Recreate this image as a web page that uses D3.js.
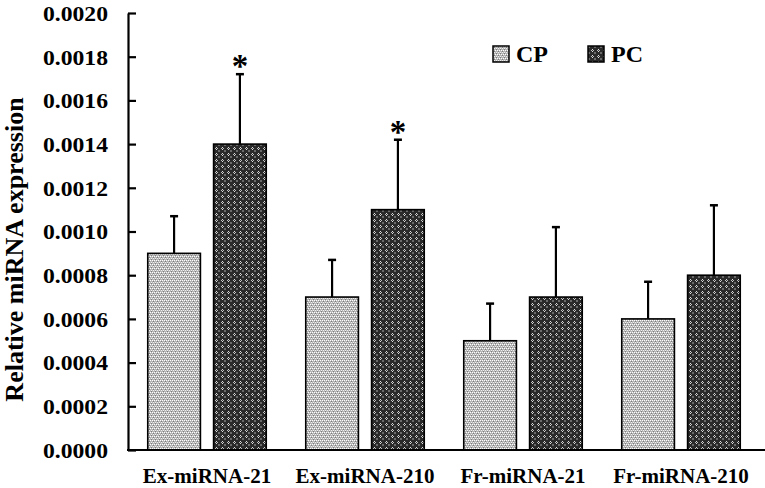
<!DOCTYPE html>
<html>
<head>
<meta charset="utf-8">
<script src="https://cdn.jsdelivr.net/npm/d3@7"></script>
<style>
	body { margin: 0; background: #fff; }
	svg { display: block; }
	text { font-family: "Liberation Serif", "Times New Roman", serif; font-weight: bold; fill: #000; }
</style>
</head>
<body>
<svg id="chart" width="765" height="488"></svg>
<script>
const categories = ["Ex-miRNA-21", "Ex-miRNA-210", "Fr-miRNA-21", "Fr-miRNA-210"];
const seriesNames = ["CP", "PC"];

// mean values and top of the error bar (mean + sd)
const cpValues = [0.0009, 0.0007, 0.0005, 0.0006];
const cpErrTop = [0.00107, 0.00087, 0.00067, 0.00077];
const pcValues = [0.0014, 0.0011, 0.0007, 0.0008];
const pcErrTop = [0.00172, 0.00142, 0.00102, 0.00112];
const pcStar = [true, true, false, false];

const yTicks = [0, 0.0002, 0.0004, 0.0006, 0.0008, 0.0010, 0.0012, 0.0014, 0.0016, 0.0018, 0.0020];

const LEFT = 128;
const RIGHT = 760;
const TOP = 13;
const BOTTOM = 450;

const svg = d3.select("#chart");

// fill patterns for the two series
const defs = svg.append("defs");

let cpPat = defs.append("pattern")
	.attr("id", "pat-cp")
	.attr("patternUnits", "userSpaceOnUse")
	.attr("width", 4).attr("height", 4);
cpPat.append("rect").attr("width", 4).attr("height", 4).attr("fill", "#b4b4b4");
[[0, 0, "#ffffff"], [2, 0, "#ffffff"], [1, 2, "#f0f0f0"], [3, 2, "#f0f0f0"],
 [1, 1, "#7c7c7c"], [3, 3, "#7c7c7c"]].forEach(p => {
	cpPat.append("rect").attr("x", p[0]).attr("y", p[1]).attr("width", 1).attr("height", 1)
		.attr("fill", p[2]).attr("shape-rendering", "crispEdges");
});

let pcPat = defs.append("pattern")
	.attr("id", "pat-pc")
	.attr("patternUnits", "userSpaceOnUse")
	.attr("width", 6).attr("height", 6);
pcPat.append("rect").attr("width", 6).attr("height", 6).attr("fill", "#2a2a2a");
[[0, 0, "#6a6a6a"], [1, 0, "#6a6a6a"], [0, 1, "#6a6a6a"], [1, 1, "#6a6a6a"],
 [4, 3, "#e0e0e0"], [3, 4, "#bdbdbd"], [5, 4, "#bdbdbd"], [4, 5, "#e0e0e0"]].forEach(p => {
	pcPat.append("rect").attr("x", p[0]).attr("y", p[1]).attr("width", 1).attr("height", 1)
		.attr("fill", p[2]).attr("shape-rendering", "crispEdges");
});

const fills = { CP: "url(#pat-cp)", PC: "url(#pat-pc)" };

const x0 = d3.scaleBand().domain(categories).range([LEFT, RIGHT]);
const x1 = d3.scaleBand().domain(seriesNames).range([0, x0.bandwidth()])
	.paddingInner(0.2).paddingOuter(0.3);
const y = d3.scaleLinear().domain([0, 0.002]).range([BOTTOM, TOP]);

const rows = categories.map((c, i) => ({
	cat: c,
	bars: [
		{ s: "CP", v: cpValues[i], e: cpErrTop[i], star: false },
		{ s: "PC", v: pcValues[i], e: pcErrTop[i], star: pcStar[i] }
	]
}));

const groups = svg.append("g").selectAll("g")
	.data(rows)
	.join("g")
	.attr("transform", d => "translate(" + x0(d.cat) + ",0)");

const bar = groups.selectAll("g")
	.data(d => d.bars)
	.join("g");

// error bars first so the bar outline sits on top
bar.append("line")
	.attr("x1", d => x1(d.s) + x1.bandwidth() / 2)
	.attr("x2", d => x1(d.s) + x1.bandwidth() / 2)
	.attr("y1", d => y(d.v))
	.attr("y2", d => y(d.e))
	.attr("stroke", "#000").attr("stroke-width", 2.2);

bar.append("line")
	.attr("x1", d => x1(d.s) + x1.bandwidth() / 2 - 4)
	.attr("x2", d => x1(d.s) + x1.bandwidth() / 2 + 4)
	.attr("y1", d => y(d.e))
	.attr("y2", d => y(d.e))
	.attr("stroke", "#000").attr("stroke-width", 2.5);

bar.append("rect")
	.attr("x", d => x1(d.s))
	.attr("y", d => y(d.v))
	.attr("width", x1.bandwidth())
	.attr("height", d => y(0) - y(d.v))
	.attr("fill", d => fills[d.s])
	.attr("stroke", "#000")
	.attr("stroke-width", 1.6);

bar.filter(d => d.star).append("text")
	.attr("x", d => x1(d.s) + x1.bandwidth() / 2)
	.attr("y", d => y(d.e) + 3)
	.attr("text-anchor", "middle")
	.style("font-size", "33px")
	.text("*");

// y axis, ticks pointing inward
const yAxis = svg.append("g")
	.attr("transform", "translate(" + LEFT + ",0)")
	.call(d3.axisLeft(y).tickValues(yTicks).tickFormat(d3.format(".4f"))
		.tickSizeInner(-8).tickSizeOuter(0).tickPadding(20));
yAxis.selectAll("path, line").attr("stroke", "#000").attr("stroke-width", 2.2);
yAxis.selectAll("text")
	.attr("font-family", null).attr("font-size", null)
	.style("font-size", "21px")
	.attr("dy", "0.35em")
	.attr("textLength", 65)
	.attr("lengthAdjust", "spacingAndGlyphs");

// x axis baseline
svg.append("line")
	.attr("x1", LEFT - 1).attr("x2", 765)
	.attr("y1", y(0)).attr("y2", y(0))
	.attr("stroke", "#000").attr("stroke-width", 2.2);

svg.append("g").selectAll("text")
	.data(categories)
	.join("text")
	.attr("x", d => x0(d) + x0.bandwidth() / 2)
	.attr("y", 483)
	.attr("text-anchor", "middle")
	.style("font-size", "21px")
	.text(d => d);

svg.append("text")
	.attr("transform", "translate(23," + ((TOP + BOTTOM) / 2 + 18) + ") rotate(-90)")
	.attr("text-anchor", "middle")
	.style("font-size", "26px")
	.text("Relative miRNA expression");

// legend
const legendX = [493, 588];
const legend = svg.append("g").selectAll("g")
	.data(seriesNames)
	.join("g")
	.attr("transform", (d, i) => "translate(" + legendX[i] + ",46)");
legend.append("rect")
	.attr("width", 16).attr("height", 16)
	.attr("fill", d => fills[d])
	.attr("stroke", "#000").attr("stroke-width", 1.5);
legend.append("text")
	.attr("x", 23).attr("y", 16)
	.style("font-size", "24px")
	.text(d => d);
</script>
</body>
</html>
